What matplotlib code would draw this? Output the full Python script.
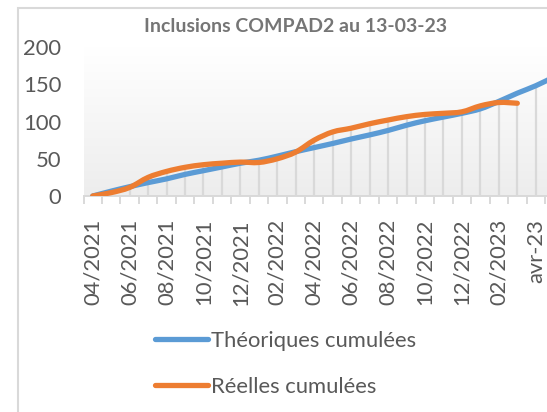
import matplotlib
matplotlib.use("Agg")
import matplotlib.pyplot as plt
import numpy as np
from matplotlib.path import Path
from matplotlib.patches import PathPatch, Rectangle
from matplotlib.lines import Line2D
from matplotlib.colors import LinearSegmentedColormap

# ---------------- data ----------------
title = "Inclusions COMPAD2 au 13-03-23"
months = ["04/2021", "05/2021", "06/2021", "07/2021", "08/2021", "09/2021",
          "10/2021", "11/2021", "12/2021", "01/2022", "02/2022", "03/2022",
          "04/2022", "05/2022", "06/2022", "07/2022", "08/2022", "09/2022",
          "10/2022", "11/2022", "12/2022", "01/2023", "02/2023", "03/2023",
          "avr-23", "05/2023"]
theoretical = [0, 6.5, 12.5, 18, 23, 29, 34, 39, 44, 48, 53.5, 59.5, 65, 70.5,
               76.5, 82, 88, 95, 101, 106, 111, 117, 127, 138, 148, 160]
actual = [0, 4.5, 11.5, 25, 33, 38.5, 42, 44, 45.5, 45, 50, 59, 75, 86, 91,
          97, 102, 106.5, 109.5, 111, 113, 121, 125.5, 124.5]
series_names = ["Théoriques cumulées", "Réelles cumulées"]
yticks = [0, 50, 100, 150, 200]

# ---------------- style ----------------
BLUE = "#5B9BD5"
ORANGE = "#ED7D31"
GRID = "#d9d9d9"
TXT = "#595959"
FONT = "Lato"
FS = 15.8

plt.rcParams["font.family"] = [FONT, "DejaVu Sans"]

W, H = 547, 412
fig = plt.figure(figsize=(W / 100, H / 100), dpi=100)
fig.patch.set_facecolor("white")

left_px, right_px, y0_px, y200_px = 83.5, 547, 196, 47
ax = fig.add_axes([left_px / W, (H - y0_px) / H, (right_px - left_px) / W,
                   (y0_px - y200_px) / H])
step_px = 18.46
xmax = (right_px - left_px) / step_px - 0.5

# gradient background
cmap = LinearSegmentedColormap.from_list("g", ["#ededed", "#ffffff"])
grad = np.linspace(0, 1, 256).reshape(-1, 1)
ax.imshow(grad, extent=[-0.5, xmax, 0, 200], aspect="auto", cmap=cmap,
          origin="lower", zorder=0)


def smooth_path(xs, ys):
    pts = np.column_stack([xs, ys]).astype(float)
    n = len(pts)
    verts = [pts[0]]
    codes = [Path.MOVETO]
    for i in range(n - 1):
        p0 = pts[i - 1] if i > 0 else pts[i]
        p1 = pts[i]
        p2 = pts[i + 1]
        p3 = pts[i + 2] if i + 2 < n else pts[i + 1]
        c1 = p1 + (p2 - p0) / 6.0
        c2 = p2 - (p3 - p1) / 6.0
        verts += [c1, c2, p2]
        codes += [Path.CURVE4] * 3
    return Path(verts, codes)


xt = np.arange(len(theoretical))
xa = np.arange(len(actual))

# drop lines
for i in range(len(theoretical)):
    top = actual[i] if i < len(actual) else theoretical[i]
    ax.vlines(i, 0, top, colors=GRID, lw=1.6, zorder=1)

lw = 3.8
for xs, ys, c in [(xt, theoretical, BLUE), (xa, actual, ORANGE)]:
    p = PathPatch(smooth_path(xs, ys), facecolor="none", edgecolor=c, lw=lw,
                  capstyle="round", joinstyle="round", zorder=3)
    ax.add_patch(p)

# x ticks: boundaries as marks, labels at every second month
ax.set_xticks(np.arange(-0.5, len(months), 1))
ax.set_xticklabels([])
ax.tick_params(axis="x", which="major", length=5.5, width=1.4, color=GRID,
               direction="out")
lab_pos = list(range(0, len(months) - 1, 2))
ax.set_xticks(lab_pos, minor=True)
ax.set_xticklabels([months[i] for i in lab_pos], minor=True, rotation=90,
                   fontsize=FS, color=TXT)
ax.tick_params(axis="x", which="minor", length=0, pad=16.5)

ax.set_yticks(yticks)
ax.set_yticklabels([str(v) for v in yticks], fontsize=FS, color=TXT)
ax.tick_params(axis="y", length=0, pad=16)

ax.set_xlim(-0.5, xmax)
ax.set_ylim(0, 200)

for s in ["left", "right", "top"]:
    ax.spines[s].set_visible(False)
ax.spines["bottom"].set_color(GRID)
ax.spines["bottom"].set_linewidth(1.4)

# title
fig.text(295 / W, 1 - 26 / H, title, ha="center", va="center", fontsize=14,
         fontweight="bold", color="#757575")

# legend
handles = [Line2D([], [], color=BLUE, lw=lw, solid_capstyle="round"),
           Line2D([], [], color=ORANGE, lw=lw, solid_capstyle="round")]
leg = fig.legend(handles, series_names, loc="upper left",
                 bbox_to_anchor=(155 / W, 1 - 331 / H), frameon=False,
                 fontsize=FS, handlelength=2.4, handletextpad=0.15,
                 labelspacing=1.18, borderpad=0, borderaxespad=0)
for t in leg.get_texts():
    t.set_color(TXT)

# chart frame
fig.add_artist(Rectangle((18 / W, -0.1), 1.0, (H - 8) / H + 0.1,
                         transform=fig.transFigure, fill=False,
                         edgecolor=GRID, lw=1.5, zorder=10))

fig.savefig("out.png", dpi=100)
